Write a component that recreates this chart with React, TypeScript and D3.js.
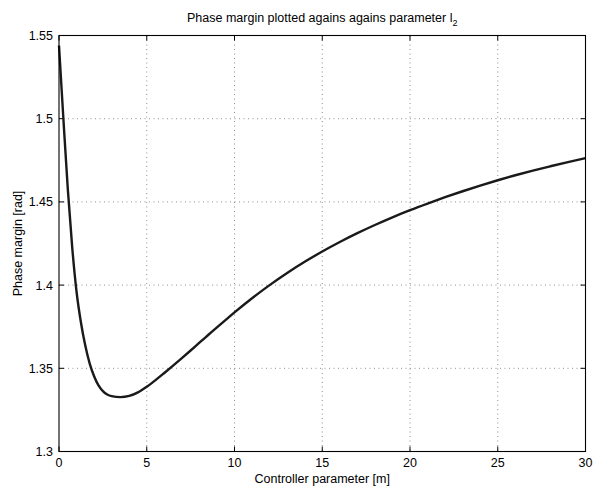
import React from "react";
import * as d3 from "d3";

const xValues = [0, 0.25, 0.5, 0.75, 1, 1.25, 1.5, 1.75, 2, 2.25, 2.5, 2.75, 3, 3.5, 4, 4.5, 5, 5.5, 6, 6.5, 7, 7.5, 8, 8.5, 9, 9.5, 10, 11, 12, 13, 14, 15, 16, 17, 18, 19, 20, 21, 22, 23, 24, 25, 26, 27, 28, 29, 30];
const yValues = [1.544, 1.5, 1.458, 1.423, 1.396, 1.3775, 1.3635, 1.3528, 1.3452, 1.3397, 1.3363, 1.3343, 1.3333, 1.3327, 1.3334, 1.3355, 1.3389, 1.3429, 1.3472, 1.3516, 1.3561, 1.3607, 1.3654, 1.37, 1.3746, 1.3791, 1.3836, 1.3921, 1.4, 1.4073, 1.414, 1.4202, 1.4259, 1.4312, 1.4361, 1.4407, 1.445, 1.449, 1.4528, 1.4564, 1.4598, 1.463, 1.466, 1.4688, 1.4714, 1.4739, 1.4763];
const xTicks = [0, 5, 10, 15, 20, 25, 30];
const yTicks = [1.3, 1.35, 1.4, 1.45, 1.5, 1.55];
const yTickLabels = ["1.3", "1.35", "1.4", "1.45", "1.5", "1.55"];
const titleText = "Phase margin plotted agains agains parameter l";
const titleSub = "2";
const xLabel = "Controller parameter [m]";
const yLabel = "Phase margin [rad]";

const W = 593;
const H = 490;
const L = 59;
const R = 585.5;
const T = 35.5;
const B = 451.5;
const FONT = "'Liberation Sans', Arial, Helvetica, sans-serif";
const FS = 12.5;

export default function App() {
  const x = d3.scaleLinear().domain([0, 30]).range([L, R]);
  const y = d3.scaleLinear().domain([1.3, 1.55]).range([B, T]);
  const data = xValues.map((v, i) => [v, yValues[i]] as [number, number]);
  const line = d3
    .line<[number, number]>()
    .x((d) => x(d[0]))
    .y((d) => y(d[1]))
    .curve(d3.curveMonotoneX);
  const tl = 5;
  return (
    <svg
      width={W}
      height={H}
      style={{ position: "fixed", left: 0, top: 0, background: "#fff" }}
      fontFamily={FONT}
    >
      <rect x={0} y={0} width={W} height={H} fill="#fff" />
      {xTicks.slice(1, -1).map((t) => (
        <line key={"gx" + t} x1={x(t)} x2={x(t)} y1={T} y2={B} stroke="#444" strokeWidth={0.6} strokeDasharray="1,3.5" />
      ))}
      {yTicks.slice(1, -1).map((t) => (
        <line key={"gy" + t} x1={L} x2={R} y1={y(t)} y2={y(t)} stroke="#444" strokeWidth={0.6} strokeDasharray="1,3.5" />
      ))}
      {xTicks.map((t) => (
        <g key={"tx" + t}>
          <line x1={x(t)} x2={x(t)} y1={B} y2={B - tl} stroke="#000" strokeWidth={1} />
          <line x1={x(t)} x2={x(t)} y1={T} y2={T + tl} stroke="#000" strokeWidth={1} />
          <text x={x(t)} y={467} textAnchor="middle" fontSize={FS} fill="#000">
            {t}
          </text>
        </g>
      ))}
      {yTicks.map((t, i) => (
        <g key={"ty" + t}>
          <line x1={L} x2={L + tl} y1={y(t)} y2={y(t)} stroke="#000" strokeWidth={1} />
          <line x1={R} x2={R - tl} y1={y(t)} y2={y(t)} stroke="#000" strokeWidth={1} />
          <text x={L - 6} y={y(t) + 4.5} textAnchor="end" fontSize={FS} fill="#000">
            {yTickLabels[i]}
          </text>
        </g>
      ))}
      <path d={line(data) || ""} fill="none" stroke="#1a1a1a" strokeWidth={2.4} strokeLinejoin="round" />
      <rect x={L} y={T} width={R - L} height={B - T} fill="none" stroke="#000" strokeWidth={1.1} />
      <text x={(L + R) / 2} y={21.5} textAnchor="middle" fontSize={FS} fill="#000">
        {titleText}
        <tspan dy={4} fontSize={9}>{titleSub}</tspan>
      </text>
      <text x={(L + R) / 2} y={482.5} textAnchor="middle" fontSize={FS} fill="#000">
        {xLabel}
      </text>
      <text
        transform={`translate(22,${(T + B) / 2}) rotate(-90)`}
        textAnchor="middle"
        fontSize={FS}
        fill="#000"
      >
        {yLabel}
      </text>
    </svg>
  );
}
